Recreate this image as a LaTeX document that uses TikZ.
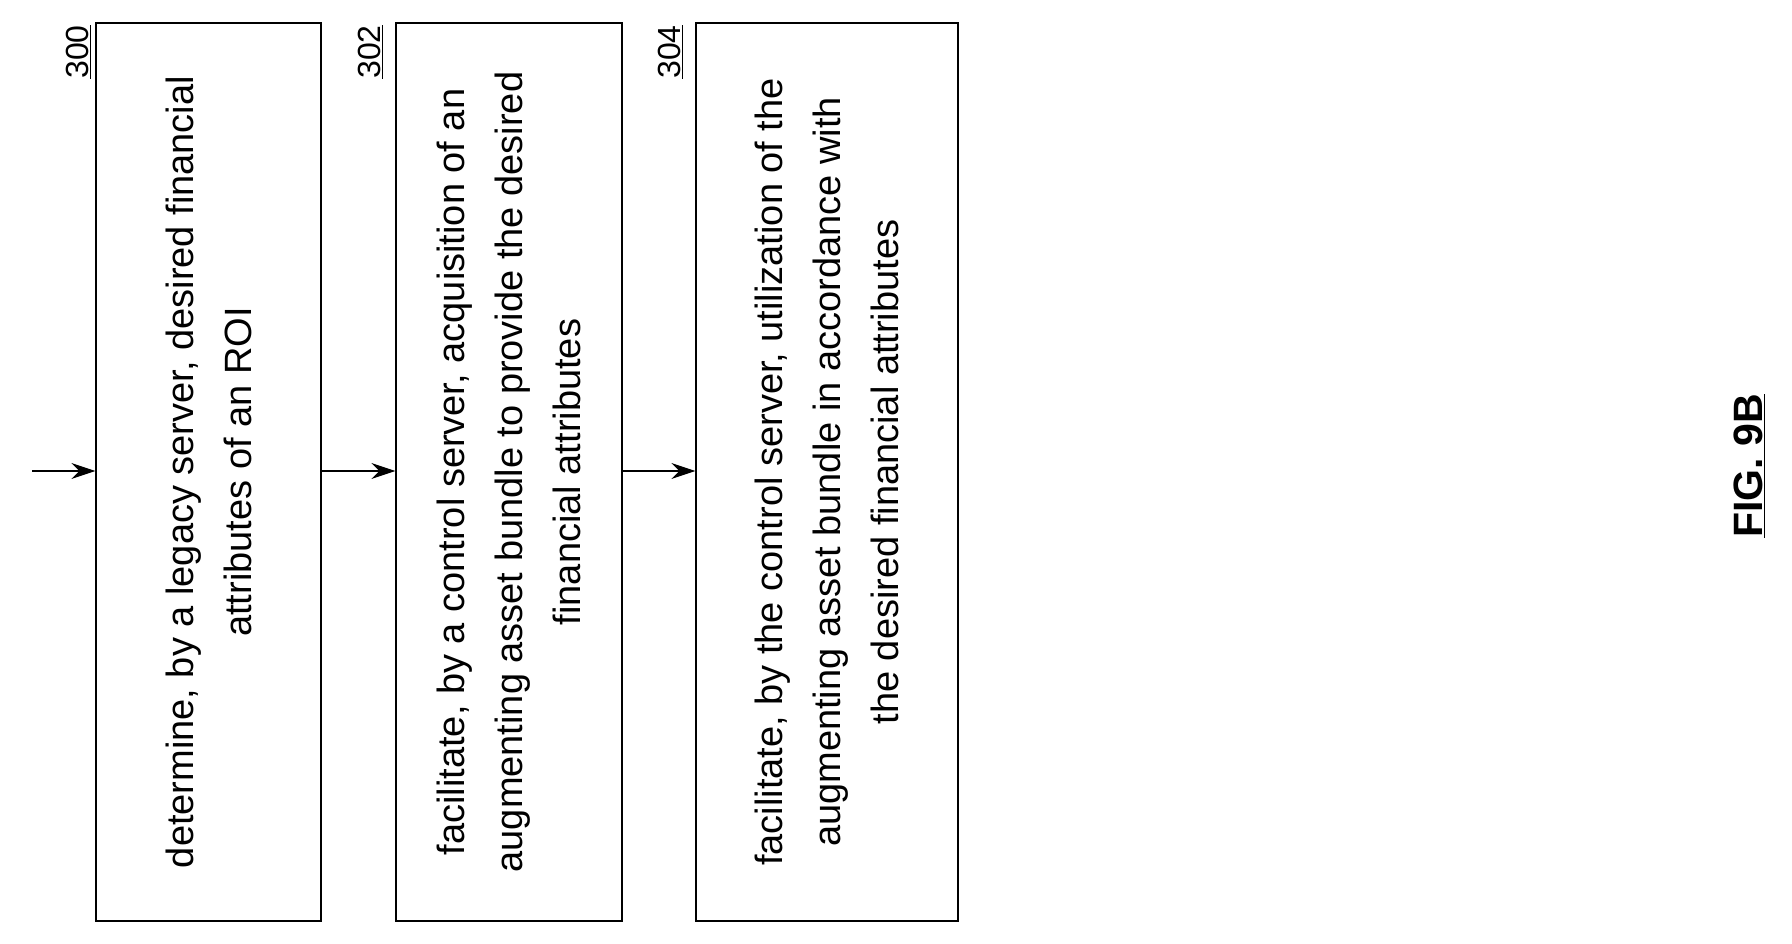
\documentclass[tikz,border=0pt]{standalone}
\usepackage{fontspec}
\setmainfont{Liberation Sans}
\usetikzlibrary{arrows.meta}
\begin{document}
\begin{tikzpicture}[x=1pt,y=-1pt,
  box/.style={draw,line width=1.3pt},
  txt/.style={rotate=90,align=center,font=\fontsize{38}{58}\selectfont,inner sep=0pt},
  lab/.style={rotate=90,font=\fontsize{32}{34}\selectfont,inner sep=0pt},
  arr/.style={line width=1.3pt,-{Stealth[length=24pt,width=16pt,inset=8pt]}}]
\useasboundingbox (0,0) rectangle (1792,944);
\node[box,minimum width=225pt,minimum height=898pt] (b1) at (208.5,472) {};
\node[box,minimum width=226pt,minimum height=898pt] (b2) at (509,472) {};
\node[box,minimum width=262pt,minimum height=898pt] (b3) at (827,472) {};
\node[txt] (t1) at (b1) {determine, by a legacy server, desired financial\\attributes of an ROI};
\node[txt] (t2) at (b2) {facilitate, by a control server, acquisition of an\\augmenting asset bundle to provide the desired\\financial attributes};
\node[txt] (t3) at (b3) {facilitate, by the control server, utilization of the\\augmenting asset bundle in accordance with\\the desired financial attributes};
\node[lab] (l1) at (78,52) {\underline{300}};
\node[lab] (l2) at (370,52) {\underline{302}};
\node[lab] (l3) at (670,52) {\underline{304}};
\node[rotate=90,font=\bfseries\fontsize{41}{44}\selectfont,inner sep=0pt] (fig) at (1749,466) {\underline{FIG. 9B}};
\coordinate (s) at (32,471);
\draw[arr] (s) -- (b1.west |- s);
\draw[arr] (b1.east |- s) -- (b2.west |- s);
\draw[arr] (b2.east |- s) -- (b3.west |- s);
\end{tikzpicture}
\end{document}
